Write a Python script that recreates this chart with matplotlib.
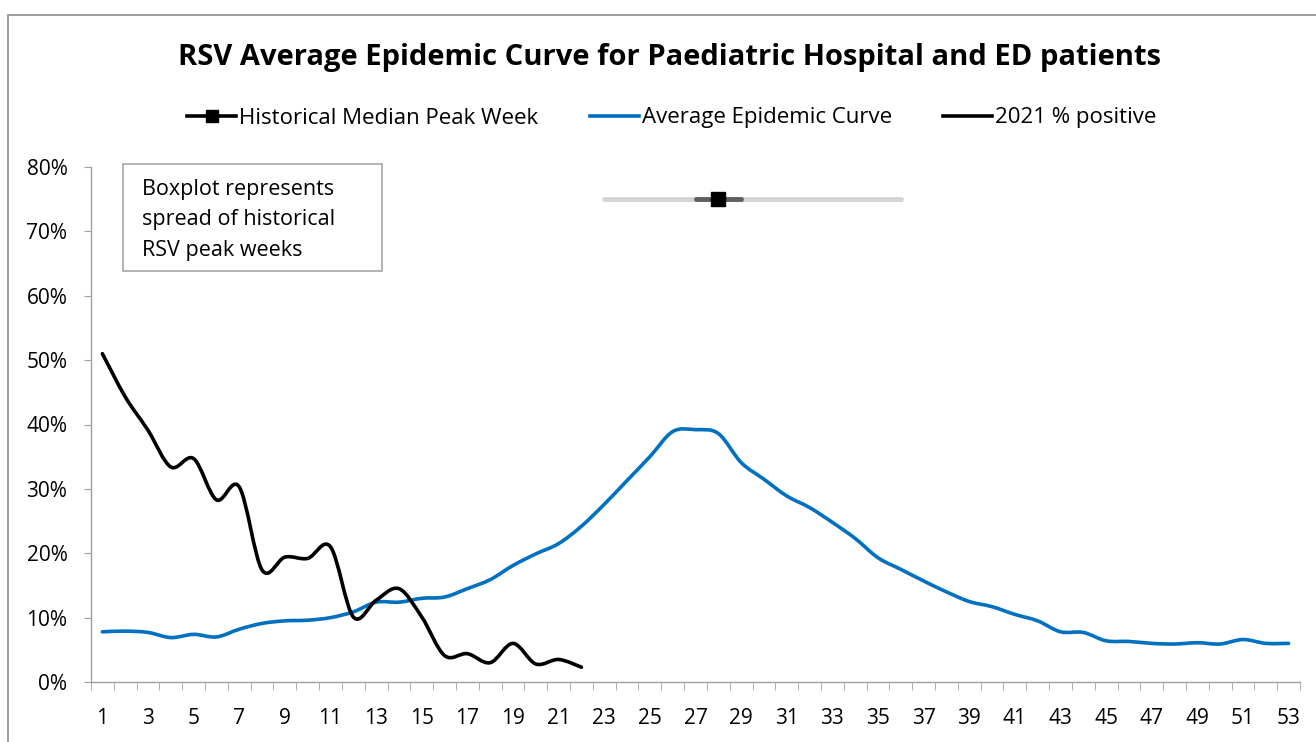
import numpy as np
import matplotlib
matplotlib.use("Agg")
import matplotlib.pyplot as plt
from matplotlib.path import Path
from matplotlib.patches import PathPatch, Rectangle
from matplotlib.lines import Line2D
from matplotlib.ticker import PercentFormatter

plt.rcParams["font.family"] = ["Open Sans", "DejaVu Sans"]

# data
weeks = np.arange(1, 54)
avg_curve = [7.8, 7.9, 7.7, 6.9, 7.4, 7.0, 8.2, 9.1, 9.5, 9.6,
             10.0, 10.9, 12.4, 12.4, 13.0, 13.2, 14.5, 15.9, 18.1, 19.9,
             21.5, 24.2, 27.6, 31.3, 35.0, 38.9, 39.2, 38.6, 34.1, 31.5,
             28.9, 27.1, 24.8, 22.3, 19.3, 17.5, 15.7, 14.0, 12.5, 11.7,
             10.5, 9.5, 7.8, 7.7, 6.4, 6.3, 6.0, 5.9, 6.1, 5.9,
             6.6, 6.0, 6.0]
weeks_2021 = np.arange(1, 23)
pos_2021 = [51.0, 44.3, 39.1, 33.4, 34.7, 28.3, 30.3, 17.4, 19.4, 19.2,
            21.0, 10.1, 12.7, 14.5, 10.1, 4.1, 4.4, 3.0, 6.0, 2.8,
            3.5, 2.3]
# historical peak week spread: min, q1, median, q3, max
peak_min, peak_q1, peak_med, peak_q3, peak_max = 23, 27, 28, 29, 36
box_level = 75.0


def smooth_path(x, y):
    # Excel style smoothed line: cubic bezier through every point
    pts = np.column_stack([x, np.asarray(y) / 100.0])
    n = len(pts)
    verts = [pts[0]]
    codes = [Path.MOVETO]
    for i in range(n - 1):
        p0 = pts[max(i - 1, 0)]
        p1 = pts[i]
        p2 = pts[i + 1]
        p3 = pts[min(i + 2, n - 1)]
        c1 = p1 + (p2 - p0) / 6.0
        c2 = p2 - (p3 - p1) / 6.0
        verts += [c1, c2, p2]
        codes += [Path.CURVE4] * 3
    return Path(verts, codes)


fig = plt.figure(figsize=(13.16, 7.42), dpi=100)
ax = fig.add_axes([91 / 1316, 1 - 682 / 742, (1300 - 91) / 1316, (682 - 167) / 742])

blue = "#0070C0"
ax.add_patch(PathPatch(smooth_path(weeks, avg_curve), fill=False, ec=blue, lw=2.6,
                       capstyle="round", joinstyle="round", zorder=3))
ax.add_patch(PathPatch(smooth_path(weeks_2021, pos_2021), fill=False, ec="black", lw=2.6,
                       capstyle="round", joinstyle="round", zorder=4))

# boxplot of historical peak weeks
ax.plot([peak_min, peak_max], [box_level / 100] * 2, color="#d4d4d4", lw=3.5,
        solid_capstyle="round", zorder=2)
ax.plot([peak_q1, peak_q3], [box_level / 100] * 2, color="#5f5f5f", lw=3.5,
        solid_capstyle="round", zorder=3)
ax.plot([peak_med], [box_level / 100], marker="s", ms=10, color="black", zorder=4)

ax.set_xlim(0.5, 53.5)
ax.set_ylim(0, 0.8)
ax.set_yticks(np.arange(0, 0.81, 0.1))
ax.yaxis.set_major_formatter(PercentFormatter(1.0, decimals=0))
ax.set_xticks(np.arange(1, 54, 2))
ax.set_xticks(np.arange(0.5, 54, 1), minor=True)
for s in ["top", "right"]:
    ax.spines[s].set_visible(False)
for s in ["left", "bottom"]:
    ax.spines[s].set_color("#a0a0a0")
    ax.spines[s].set_linewidth(1.0)
ax.tick_params(axis="x", which="major", length=0, pad=19, labelsize=15)
ax.tick_params(axis="x", which="minor", length=6, color="#a0a0a0", direction="out")
ax.tick_params(axis="y", length=5, color="#a0a0a0", pad=12, labelsize=15)

# annotation box
ax.add_patch(Rectangle((32 / 1209, (682 - 271) / 515), 259 / 1209, 107 / 515,
                       transform=ax.transAxes, fill=False, ec="#a6a6a6", lw=1.2,
                       clip_on=False, zorder=5))
ax.text(51 / 1209, (682 - 220) / 515, "Boxplot represents\nspread of historical\nRSV peak weeks",
        transform=ax.transAxes, fontsize=15.5, va="center", ha="left", linespacing=1.62)

fig.suptitle("RSV Average Epidemic Curve for Paediatric Hospital and ED patients",
             x=669 / 1316, y=1 - 58 / 742, va="center", fontsize=21, fontweight="bold")

handles = [
    Line2D([], [], color="black", lw=2.6, marker="s", ms=9),
    Line2D([], [], color=blue, lw=2.6),
    Line2D([], [], color="black", lw=2.6),
]
labels = ["Historical Median Peak Week", "Average Epidemic Curve", "2021 % positive"]
fig.legend(handles, labels, loc="center", bbox_to_anchor=(672 / 1316, 1 - 118 / 742), ncol=3,
           frameon=False, fontsize=16, handlelength=2.2, columnspacing=2.3, handletextpad=0.15)

# chart border
fig.patches.append(Rectangle((8 / 1316, -0.1), 1.2, 1 - 15 / 742 + 0.1, transform=fig.transFigure,
                             fill=False, ec="#8c8c8c", lw=1.2))

fig.savefig("out.png", dpi=100, facecolor="white")
